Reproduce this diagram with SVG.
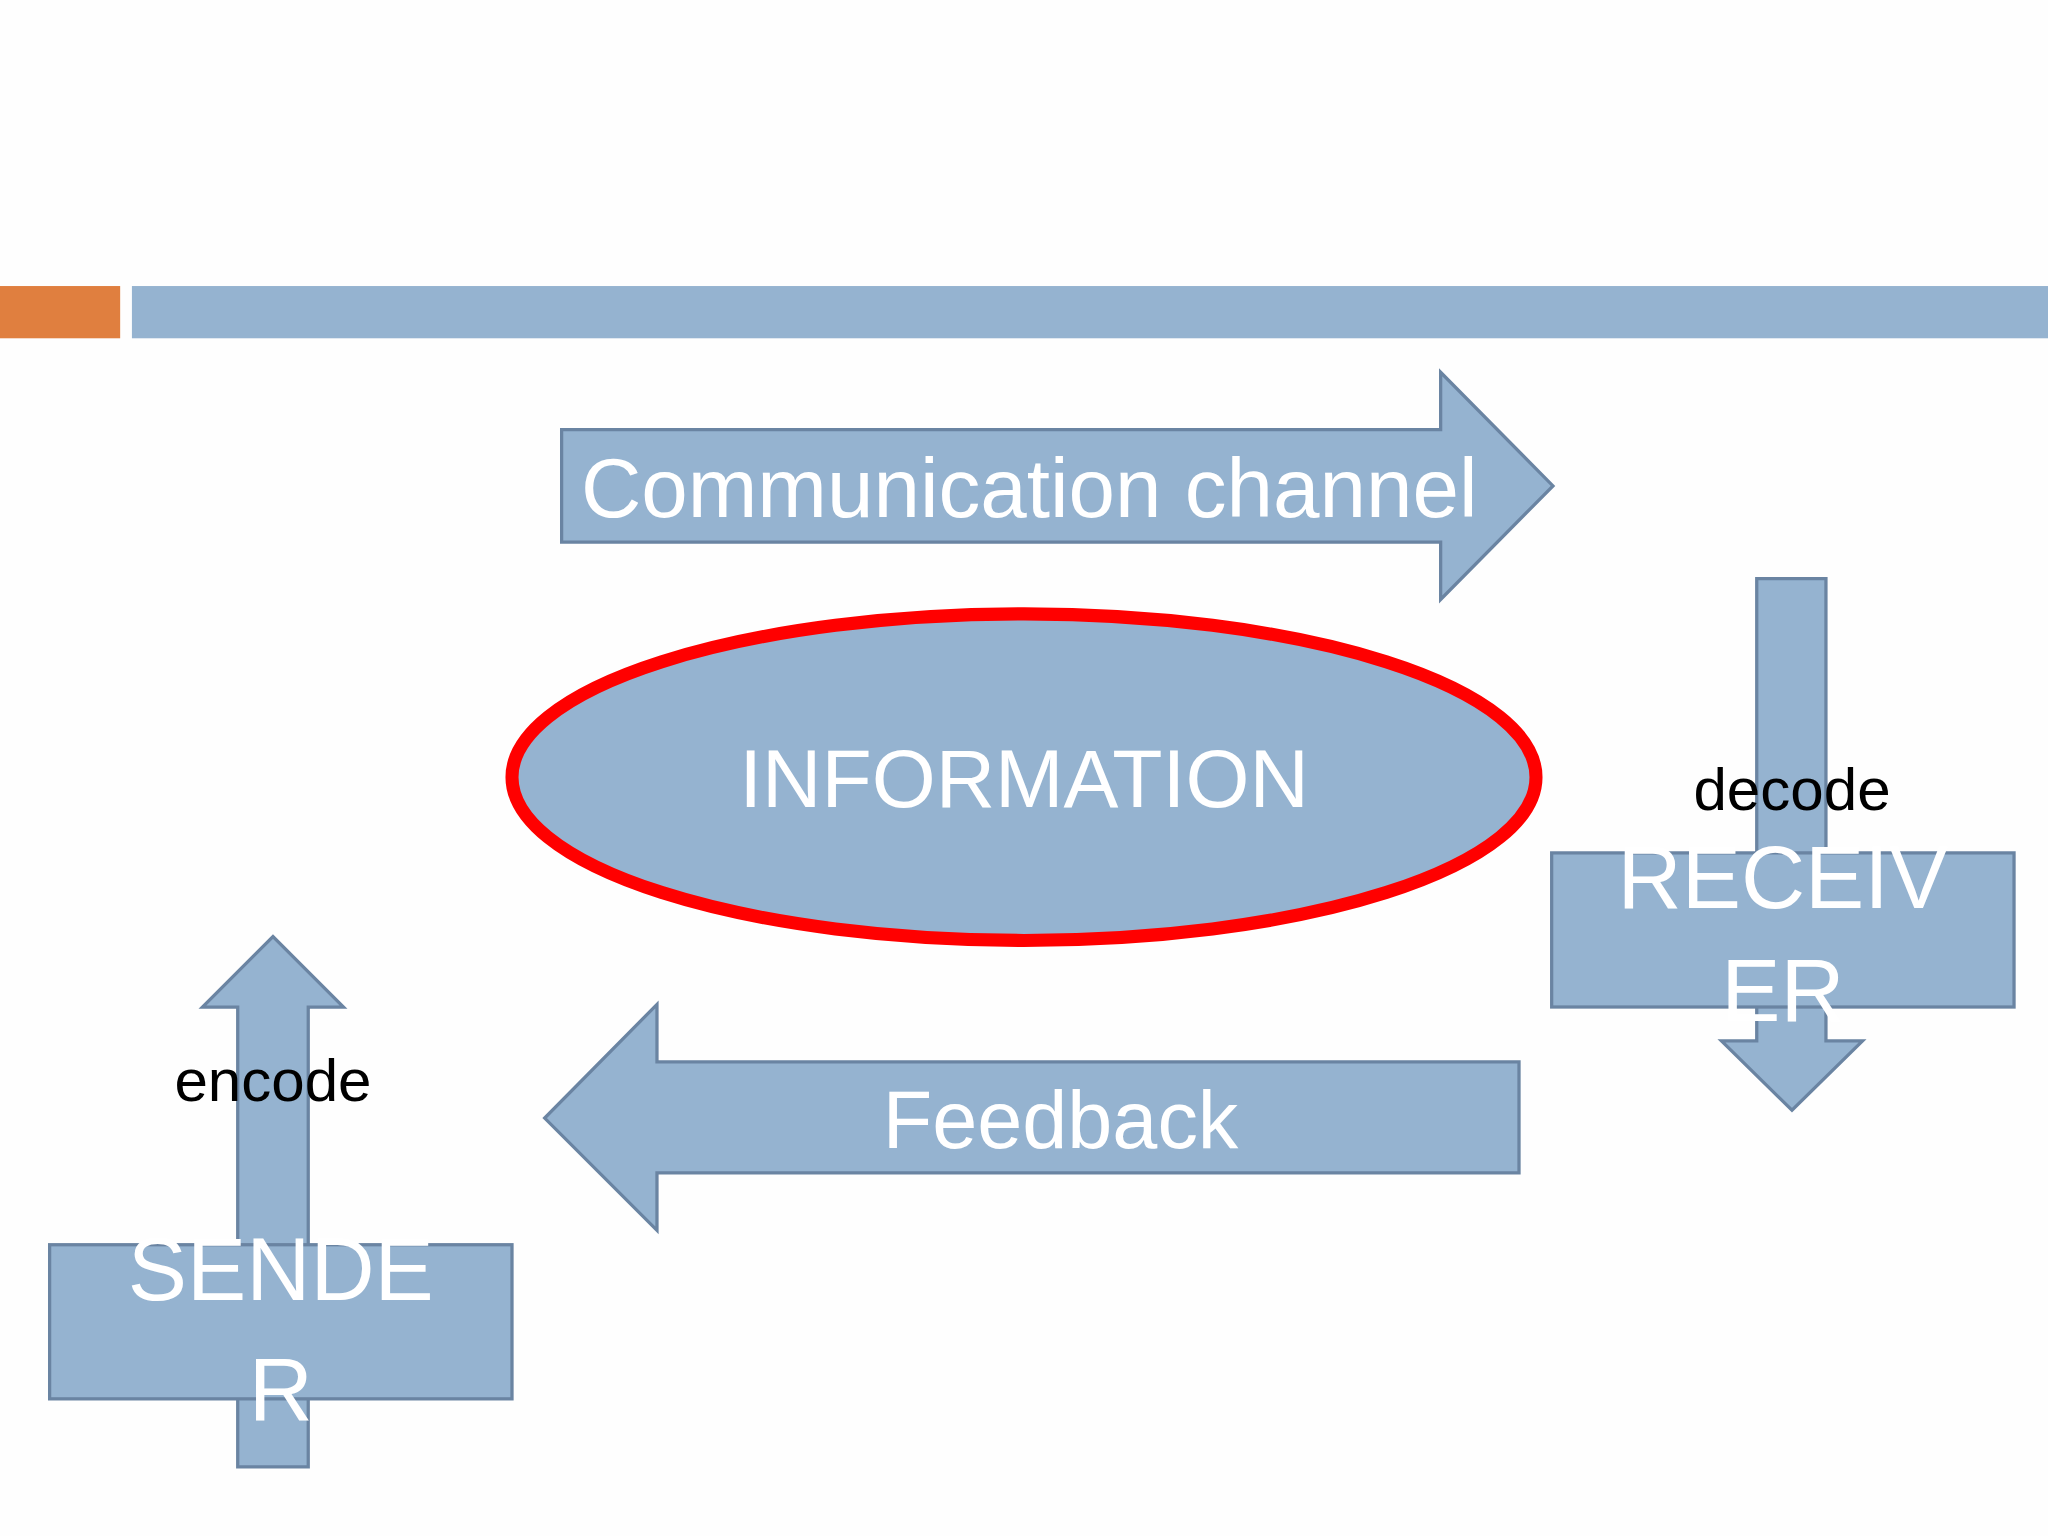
<svg xmlns="http://www.w3.org/2000/svg" width="2048" height="1536" viewBox="0 0 2048 1536">
<style>
.s{fill:#95b3d0;stroke:#6a84a2;stroke-width:2.5}
.w{fill:#fff;font-family:"Liberation Sans",Arial,sans-serif;text-anchor:middle}
.b{fill:#000;font-family:"Liberation Sans",Arial,sans-serif;text-anchor:middle}
</style>
<rect width="2048" height="1536" fill="#fefefe"/>
<g transform="scale(1.30612)">
<g id="header">
<rect x="0" y="219" width="92" height="40" fill="#e07f3f"/>
<rect x="101" y="219" width="1467" height="40" fill="#95b3d0"/>
</g>
<g id="connectors">
<g id="channel"><path class="s" d="M430,329H1103V285L1189,372L1103,459V415H430Z"/>
<text class="w" x="788" y="396" font-size="64">Communication channel</text></g>
<g id="feedback"><path class="s" d="M1163,813H503V769L417,856L503,942V898H1163Z"/>
<text class="w" x="812" y="879" font-size="62">Feedback</text></g>
<g id="decode-arrow"><path class="s" d="M1345,443H1398V797H1426L1372,850L1318,797H1345Z"/></g>
<g id="encode-arrow"><path class="s" d="M182,1123H236V771H263L209,717L155,771H182Z"/></g>
</g>
<g id="information">
<ellipse cx="784" cy="595" rx="392" ry="125" fill="#95b3d0" stroke="#f00" stroke-width="10"/>
<text class="w" x="784" y="618" font-size="63">INFORMATION</text></g>
<g id="receiver">
<rect class="s" x="1188" y="653" width="354" height="118"/>
<text class="w" x="1365" y="695" font-size="68">RECEIV</text>
<text class="w" x="1365" y="782" font-size="68">ER</text>
<text class="b" x="1372" y="620" font-size="46">decode</text></g>
<g id="sender">
<rect class="s" x="38" y="953" width="354" height="118"/>
<text class="w" x="215" y="995" font-size="68">SENDE</text>
<text class="w" x="215" y="1087" font-size="68">R</text>
<text class="b" x="209" y="843" font-size="46">encode</text></g>
</g>
</svg>
